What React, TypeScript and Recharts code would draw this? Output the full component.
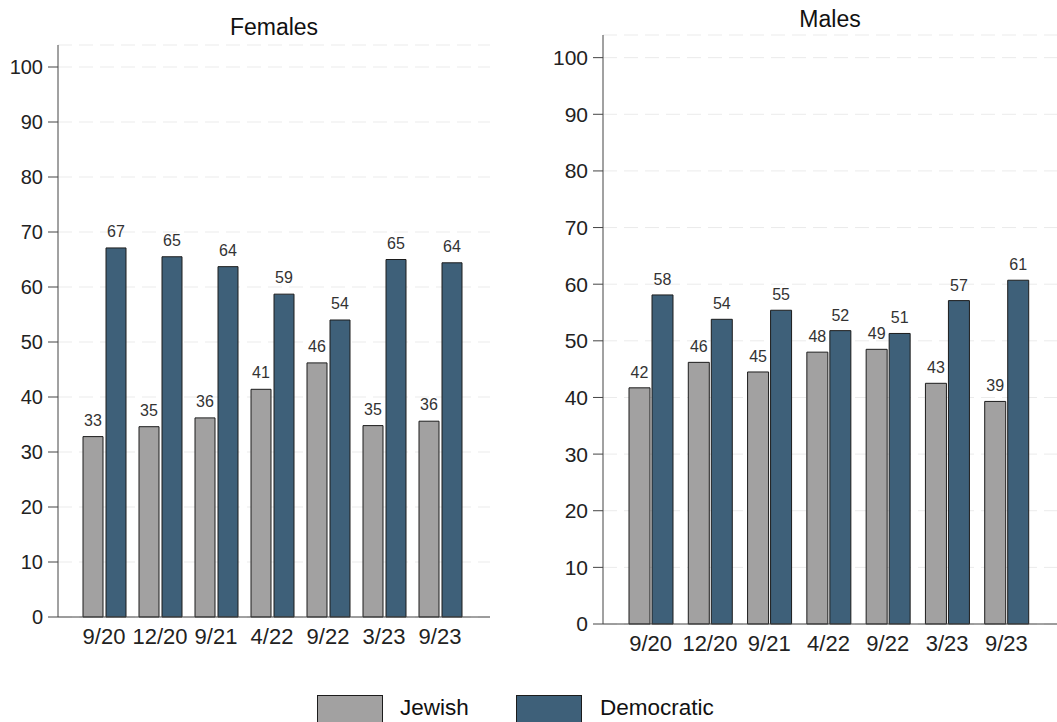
import { BarChart, Bar, XAxis, YAxis, CartesianGrid, LabelList } from 'recharts';

// survey waves
const waves = ['9/20', '12/20', '9/21', '4/22', '9/22', '3/23', '9/23'];

// bar heights, printed labels kept separately
const femJewish = [32.8, 34.6, 36.2, 41.4, 46.2, 34.8, 35.6];
const femDemocratic = [67.1, 65.5, 63.7, 58.7, 54.0, 65.0, 64.4];
const femJewishLabels = [33, 35, 36, 41, 46, 35, 36];
const femDemocraticLabels = [67, 65, 64, 59, 54, 65, 64];

const maleJewish = [41.7, 46.2, 44.5, 48.0, 48.5, 42.5, 39.3];
const maleDemocratic = [58.1, 53.8, 55.4, 51.8, 51.3, 57.1, 60.7];
const maleJewishLabels = [42, 46, 45, 48, 49, 43, 39];
const maleDemocraticLabels = [58, 54, 55, 52, 51, 57, 61];

const yTicks = [0, 10, 20, 30, 40, 50, 60, 70, 80, 90, 100];

const GRAY = '#a2a1a1';
const BLUE = '#3e6079';
const EDGE = '#1c1c1c';
const FONT = '"Liberation Sans", Arial, Helvetica, sans-serif';

const build = (jew: number[], dem: number[], jl: number[], dl: number[]) =>
    waves.map((w, i) => ({ wave: w, jewish: jew[i], democratic: dem[i], jl: jl[i], dl: dl[i] }));

const femData = build(femJewish, femDemocratic, femJewishLabels, femDemocraticLabels);
const maleData = build(maleJewish, maleDemocratic, maleJewishLabels, maleDemocraticLabels);

interface PanelProps {
    data: any[];
    width: number;
    height: number;
    top: number;
    right: number;
    barSize: number;
    barGap: number;
    padL: number;
    padR: number;
    labelOffset: number;
    yFont: number;
}

function Panel({ data, width, height, top, right, barSize, barGap, padL, padR, labelOffset, yFont }: PanelProps) {
    const labelStyle = { fontSize: 16, fill: '#333', fontFamily: FONT };
    return (
        <BarChart
            width={width}
            height={height}
            data={data}
            margin={{ top, right, left: 0, bottom: 0 }}
            barSize={barSize}
            barGap={barGap}
        >
            <CartesianGrid vertical={false} stroke="#ebebeb" strokeDasharray="14 7" />
            <XAxis
                dataKey="wave"
                height={60}
                tickLine={false}
                tickMargin={5}
                padding={{ left: padL, right: padR }}
                axisLine={{ stroke: '#444' }}
                tick={{ fontSize: 22, fill: '#222', fontFamily: FONT }}
                interval={0}
            />
            <YAxis
                width={58}
                domain={[0, 104]}
                ticks={yTicks}
                tickSize={10}
                tickMargin={5}
                axisLine={{ stroke: '#444' }}
                tickLine={{ stroke: '#444' }}
                tick={{ fontSize: yFont, fill: '#222', fontFamily: FONT }}
            />
            <Bar dataKey="jewish" fill={GRAY} stroke={EDGE} strokeWidth={1} isAnimationActive={false}>
                <LabelList dataKey="jl" position="top" offset={labelOffset} style={labelStyle} />
            </Bar>
            <Bar dataKey="democratic" fill={BLUE} stroke={EDGE} strokeWidth={1} isAnimationActive={false}>
                <LabelList dataKey="dl" position="top" offset={labelOffset} style={labelStyle} />
            </Bar>
        </BarChart>
    );
}

export default function App() {
    const titleStyle: any = {
        position: 'absolute',
        fontFamily: FONT,
        fontSize: 23,
        color: '#111',
        transform: 'translate(-50%, -50%)',
        whiteSpace: 'nowrap',
    };
    const legendText: any = { position: 'absolute', top: 695, fontFamily: FONT, fontSize: 22.5, color: '#111' };
    return (
        <div style={{ position: 'absolute', left: 0, top: 0, width: 1057, height: 722, overflow: 'hidden', background: '#fff' }}>
            <div style={{ ...titleStyle, left: 274, top: 27 }}>Females</div>
            <div style={{ ...titleStyle, left: 830, top: 19 }}>Males</div>

            <div style={{ position: 'absolute', left: 0, top: 0 }}>
                <Panel data={femData} width={500} height={677} top={45} right={10}
                    barSize={20} barGap={3} padL={18} padR={22} labelOffset={11} yFont={20} />
            </div>
            <div style={{ position: 'absolute', left: 545, top: 0 }}>
                <Panel data={maleData} width={512} height={684} top={35} right={0}
                    barSize={21} barGap={2} padL={18} padR={21} labelOffset={10} yFont={21} />
            </div>

            {/* legend, cut off at the bottom like the source */}
            <div style={{ position: 'absolute', left: 317, top: 695, width: 64, height: 40, background: GRAY, border: `1px solid ${EDGE}` }} />
            <div style={{ ...legendText, left: 400 }}>Jewish</div>
            <div style={{ position: 'absolute', left: 516, top: 695, width: 64, height: 40, background: BLUE, border: `1px solid ${EDGE}` }} />
            <div style={{ ...legendText, left: 600 }}>Democratic</div>
        </div>
    );
}
